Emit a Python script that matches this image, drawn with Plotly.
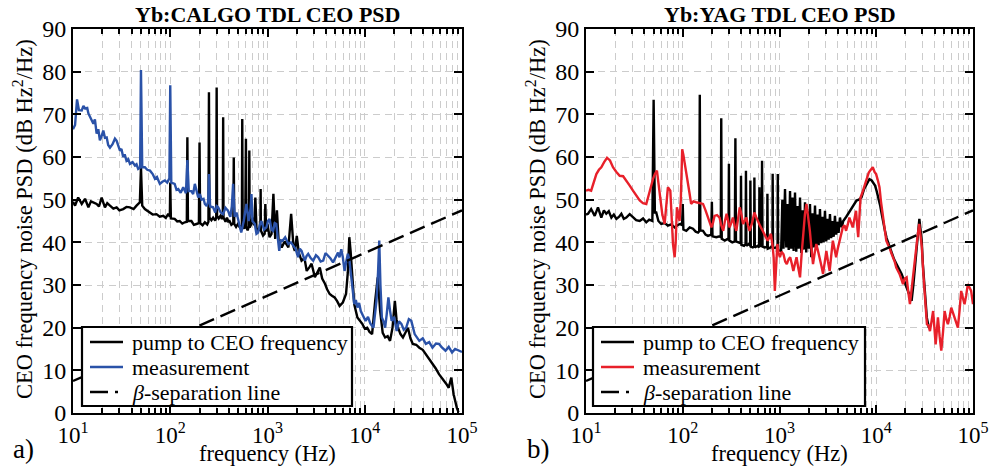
import plotly.graph_objects as go

# ---------------- data ----------------
calgo_pump_f = [10, 10.5, 11.3, 12.3, 13.3, 14.4, 15.3, 16.2, 17.5, 18.5, 19.7, 21.3, 22.5, 24, 26, 28.1, 30, 32.8,
                35.5, 38.5, 42, 45, 48.7, 50, 51.5, 54.8, 58, 61.9, 66, 72.2, 78, 84.6, 90, 95.4, 99, 100, 101.5,
                111, 118, 125, 133, 141, 148, 150, 152, 165, 175, 186, 197, 200, 203, 215, 227, 240, 247, 250, 253,
                265, 276, 290, 297, 300, 303, 315, 328, 340, 347, 350, 353, 370, 383, 395, 407, 425, 445, 450, 455,
                475, 496, 520, 545, 550, 556, 575, 590, 600, 606, 625, 645, 650, 656, 680, 700, 730, 750, 770, 800,
                845, 850, 855, 900, 935, 950, 970, 1000, 1050, 1100, 1150, 1200, 1250, 1300, 1400, 1500, 1640, 1750,
                1850, 1910, 2000, 2100, 2240, 2400, 2530, 2700, 2840, 3070, 3250, 3450, 3650, 3900, 4100, 4360, 4600,
                4900, 5200, 5510, 5950, 6420, 6700, 6940, 7150, 7380, 7800, 8400, 9000, 9440, 10000, 10600, 11200,
                11900, 12800, 13600, 14400, 15300, 16200, 17200, 18200, 19300, 20400, 21200, 22000, 23300, 24700,
                26200, 27800, 29500, 31200, 33800, 36400, 39500, 42500, 46000, 49700, 53500, 58000, 62000, 65100,
                69000, 73000, 77600, 82000, 85000, 88500, 92000]
calgo_pump_db = [49.5, 48.6, 50.5, 49, 50.2, 48.2, 49.6, 49.4, 49, 48.4, 50.5, 48.2, 49.2, 48.6, 47.9, 48.2, 47.5, 47.8,
                 48.3, 48.2, 47.8, 48.6, 49.4, 57.6, 48.6, 47.8, 47.4, 47, 46.5, 46.6, 46, 46.2, 45.7, 46.7, 46, 54, 45.6,
                 45.5, 44.9, 45, 44.4, 44.7, 44.8, 64.6, 45, 45, 44.1, 44.3, 44.5, 63.4, 44.5, 44, 44.7, 44.2, 44.8, 75.2, 45.8,
                 45.2, 45.8, 45.1, 45.8, 76.3, 46.2, 45.6, 46.2, 45.5, 45.9, 69.3, 45.8, 44.8, 45.8, 44.9, 45, 44.1, 44.5, 59.9, 44.3,
                 43.6, 44.3, 43.5, 44, 68.9, 43.7, 43.2, 44, 64.3, 43.5, 42.8, 43.8, 61.5, 43.5, 44.2, 45.8, 44, 50.5, 43.4, 42.6,
                 43.5, 52.5, 42.8, 41.6, 42, 49, 42.5, 44.3, 41.2, 42, 51.4, 40.8, 47.5, 40.5, 38.8, 40.2, 38.8, 46.7,
                 39, 38, 41.5, 37.5, 35.7, 36.3, 33.3, 34.2, 35, 31.8, 33, 34.1, 31.5, 30.3, 29, 27.9, 27.5,
                 27.1, 26.2, 25.1, 25.9, 27.9, 33, 41.2, 38, 33.3, 25.5, 22.4, 21.5, 20.9, 19.8, 20, 19,
                 18.5, 26.3, 31.8, 23.9, 18.8, 17.7, 18, 16.9, 20, 26.3, 22, 20, 18.5, 17.7,
                 19, 20, 17.5, 16.2, 16, 15.3, 14.8, 13.8, 12.6, 11.5, 10.5, 9.1, 8.3, 7.5,
                 6.8, 5.9, 8.3, 4.4, 2.8, 1.2, 0.2]

calgo_meas_f = [10, 10.5, 11, 11.5, 12.3, 12.8, 13.3, 14, 14.4, 15.3, 16.2, 16.8, 17.5, 18.2, 18.9, 19.6, 20.5, 21.3,
                22.2, 23, 24, 25.5, 27, 28.1, 29.2, 30.4, 31.5, 32.8, 34, 35.5, 37, 38.5, 41, 43.3, 45, 46.8, 49, 50,
                51.5, 54.8, 58, 61.9, 66, 69.6, 73, 78.2, 83, 88, 93, 98, 100, 102.5, 111, 116, 121, 128, 136, 145,
                150, 155, 165, 172, 179, 187, 194, 201.7, 210, 220, 227, 237, 245, 250, 257, 276, 290, 300, 311, 330,
                349, 370, 393, 415, 430, 443, 460, 480, 496, 515, 537, 570, 607, 640, 670, 684, 700, 740, 770, 800,
                830, 867, 920, 975, 1010, 1050, 1100, 1140, 1190, 1230, 1280, 1320, 1370, 1430, 1520, 1640, 1740,
                1840, 1950, 2060, 2150, 2240, 2320, 2420, 2520, 2620, 2780, 2950, 3150, 3320, 3520, 3740, 3950, 4200,
                4450, 4720, 5000, 5310, 5500, 5740, 5950, 6200, 6450, 6700, 6940, 7210, 7500, 7800, 8100, 8400, 8750,
                9100, 9600, 10200, 10800, 11400, 12300, 12800, 13200, 13700, 14100, 14500, 15000, 15600, 16200, 16800,
                17500, 18200, 18900, 20000, 21300, 22500, 23800, 25200, 26700, 28400, 30100, 32600, 34500, 36400,
                39500, 42500, 46000, 49700, 54000, 58000, 62500, 67700, 73000, 79000, 85000, 92000, 100000]
calgo_meas_db = [66.5, 67.5, 73.5, 71, 70.9, 72, 71.4, 71.5, 70.2, 69, 67.8, 68.8, 65.5, 66.5, 63.9, 64.8, 66.2, 64.5,
                 64.6, 62.8, 62.2, 63, 64.3, 63.8, 62.6, 61.5, 61.9, 60, 60.6, 59.1, 59.5, 58.4, 58.8, 58, 58.3, 57.2, 57.5, 80.4,
                 57.6, 57.6, 57, 56.8, 56, 54.9, 55.3, 53.7, 54.2, 54.5, 54, 55, 76.8, 54, 53.7, 52.3, 52.5, 51.6, 52.9, 51.5,
                 59.3, 52, 52, 51.3, 53.7, 51.6, 50.5, 51.3, 50, 50.2, 49, 48.5, 49.5, 56, 48.4, 48.2, 47, 48.5, 48.2, 47,
                 46.6, 48.1, 47.4, 46, 48.5, 53.7, 46, 47, 45.8, 44, 42.3, 45, 49, 45, 48, 51.3, 45, 44.3, 42, 42.3,
                 44, 45, 43, 43.5, 45, 45.5, 43, 42.7, 44.5, 44.3, 41, 38, 40.5, 40.4, 41.2, 39.6, 40,
                 39.2, 38.4, 36.5, 38.5, 38, 36.8, 35.7, 36.8, 37.3, 36.3, 35.7, 37, 36.5, 35.5, 35.7, 37.5, 36.9,
                 36.2, 35.3, 36.5, 37.6, 36.5, 38.4, 36.5, 33.3, 35.5, 37.3, 36, 32.6, 28, 25.5, 26.5, 24.7, 25.8,
                 23.9, 22.8, 21.6, 22.5, 21, 20, 24, 26.3, 33, 40.4, 30, 22.4, 21.5, 20, 23,
                 27.1, 24, 21.6, 22.5, 19.2, 21.5, 20.9, 19.5, 20, 22, 21.6, 18.5, 17.8, 16.9,
                 17.5, 16.2, 16.6, 15.3, 16.3, 16.2, 15.3, 14.6, 15.5, 14.2, 15, 14.6, 14.3]

yag_pump_f = [10, 10.5, 11.3, 12.3, 13.3, 14.4, 15.3, 16.2, 17.2, 18.3, 19.4, 20.6, 22, 23.2, 24.6, 26.1, 28.3, 30.6,
              33, 35.9, 38.9, 42, 45, 48.5, 50, 51.5, 53.2, 56, 59.9, 65, 70.2, 76, 82.4, 88, 94.4, 98.5, 100, 101.5,
              108.8, 118, 127.6, 136, 143.9, 148, 150, 152, 162, 172, 182, 197, 200, 203, 222, 240, 247, 250, 253,
              272, 290, 297, 300, 303, 325, 345, 350, 355, 382, 397, 400, 404, 430, 446, 450, 455, 480, 497, 500,
              505, 530, 547, 550, 556, 595, 615, 620, 630, 655, 660, 668, 700, 745, 750, 757, 810, 845, 850, 857,
              910, 955, 960, 968, 1040, 1070, 1100, 1140, 1175, 1210, 1245, 1285, 1320, 1360, 1400, 1446, 1490,
              1530, 1580, 1630, 1680, 1730, 1780, 1835, 1890, 1950, 2010, 2066, 2130, 2200, 2260, 2327, 2400, 2470,
              2540, 2620, 2700, 2780, 2860, 2951, 3040, 3130, 3220, 3323, 3420, 3520, 3630, 3742, 3850, 3960, 4080,
              4215, 4400, 4560, 4900, 5330, 5800, 6250, 6600, 7030, 7500, 7970, 8500, 8970, 9350, 9720, 10100,
              10500, 11000, 11400, 11800, 12300, 12800, 13400, 14000, 14500, 15300, 16200, 17200, 18300, 19400,
              20600, 21900, 23200, 24200, 25100, 26500, 27900, 28700, 29500, 30300, 31200, 32200, 33300, 35000]
yag_pump_db = [46.5, 46.7, 47.8, 46.2, 48.2, 45.8, 47.5, 46.7, 47.3, 45.8, 46.5, 45.5, 46, 46.7, 45.5, 45.8, 46.6, 45.8,
               45.2, 45, 45.6, 44.7, 45.3, 45, 73.4, 47, 47, 45, 44.3, 44.5, 43.9, 44.2, 43.5, 44, 44.3, 44, 49, 43,
               42.7, 43.5, 43.2, 42.5, 42.3, 42.6, 74.6, 42.8, 42.7, 41.8, 41.5, 41.8, 49.5, 41.4, 41.2, 41.4, 41.2, 69.1, 40.8,
               40.4, 40.8, 40.6, 58.4, 40.4, 40, 40.2, 64.4, 40.2, 40, 39.8, 55.6, 39.4, 39.2, 39.6, 56.8, 39.2, 39.6, 39.2, 54.5,
               39, 38.8, 39, 55.2, 38.8, 39.2, 38.8, 52.9, 39, 39.5, 59.1, 39, 38.8, 38.9, 51.4, 38.5, 38.8, 39.2, 56.1, 38.6,
               38.8, 38.5, 56, 38.2, 38, 50, 38.5, 52.5, 38.8, 49, 38.2, 52, 38.5, 50.5, 38, 51.7, 37.8,
               48.5, 38.5, 50.5, 37.5, 47.5, 38.3, 49.4, 37.6, 47.2, 38.5, 49, 36.5, 46.8, 38.8, 48.6, 39, 46.5,
               39.3, 47.8, 39.8, 46, 40, 47.4, 40.2, 45.5, 40.6, 46.6, 41, 45, 41.3, 46.2, 41.8, 44.8, 42.2,
               45.8, 43.5, 45, 46, 47.4, 48.5, 49.8, 50, 50.5, 52.5, 53.7, 54.8, 54.5, 54, 53.3, 52,
               50.5, 48.5, 46.6, 44.5, 42.7, 41, 39.6, 38.3, 37.2, 36, 34.9, 33.8, 32.6, 31,
               29.4, 28, 26.3, 30, 34.9, 40, 45.5, 43, 40.4, 35, 30.3, 26, 22.4, 20]

yag_meas_f = [10, 10.6, 11.3, 12, 12.8, 13.6, 14.4, 15.4, 16.5, 17.7, 19, 20.6, 22.3, 24.2, 26.1, 28.3, 30.6, 33.1,
              35.9, 38.8, 42, 43.8, 45.5, 47.3, 49.2, 51.5, 54.1, 56, 58.5, 61.5, 65, 67.5, 70.2, 74.4, 76.8, 79.3,
              82.4, 84.5, 87, 90, 92.7, 95.5, 98.7, 101.5, 104.6, 108.5, 113, 117.5, 122, 129, 137.6, 148, 162, 172,
              182, 190, 198, 205, 213, 226, 240, 250, 262, 272, 284, 295, 305, 318, 330, 343, 358, 373, 388, 404,
              420, 437, 455, 472, 490, 520, 550, 572, 595, 632, 670, 712, 755, 785, 815, 850, 870, 895, 920, 950,
              980, 1010, 1050, 1100, 1145, 1190, 1240, 1290, 1340, 1390, 1445, 1500, 1565, 1630, 1690, 1760, 1830,
              1900, 1980, 2060, 2140, 2220, 2310, 2400, 2500, 2600, 2710, 2820, 2930, 3050, 3170, 3300, 3430, 3560,
              3700, 3850, 4000, 4170, 4340, 4510, 4700, 4880, 5080, 5280, 5500, 5710, 5950, 6180, 6350, 6510, 6700,
              6880, 7150, 7460, 7750, 8090, 8350, 8630, 8900, 9210, 9600, 9970, 10400, 10800, 11200, 11700, 12200,
              12700, 13200, 13700, 14300, 14900, 15500, 16100, 16700, 17400, 18100, 18900, 19700, 20600, 21400,
              22300, 23200, 24100, 25000, 26000, 26900, 27800, 28700, 29600, 30600, 31700, 32500, 33400, 34600,
              35900, 37300, 38700, 39900, 41100, 42200, 43400, 45200, 47000, 49000, 50900, 53000, 55000, 57300,
              59600, 62000, 64400, 67000, 69800, 72600, 75500, 78500, 81700, 85000, 88400, 92000, 95700, 100000]
yag_meas_db = [52.1, 52.3, 52.1, 54, 56, 57, 57.6, 58.8, 59.8, 59.2, 57.6, 56.5, 55.6, 55.5, 54.5, 53.3, 52.1, 51,
               49.8, 49.2, 49, 50.5, 52.1, 53.5, 54.8, 56, 56.8, 54, 49.8, 46.5, 44.3, 48, 52.9, 52.1, 47, 39.6,
               36.5, 40, 48.2, 46.5, 45, 50, 61.8, 60.5, 58.4, 56, 53.7, 51.5, 49, 49.6, 49.4, 49.2, 49, 47.5,
               45.8, 44.8, 43.5, 44.5, 46.2, 46.4, 45.8, 44, 42.7, 44.8, 46.7, 45, 43.5, 44.6, 45.8, 44, 42.7, 45.5, 48.2, 46.5,
               44.3, 45, 45.8, 44, 42.7, 44.5, 47, 46, 45, 43.8, 42.7, 41.5, 40.4, 41.2, 42, 39, 36.5, 28.6, 33, 39.6,
               37.5, 36.5, 37.8, 37.2, 35.5, 34.9, 36, 36.5, 35, 33.3, 35, 36.5, 34, 31.8, 37, 42.7, 46.5,
               49, 46, 42.7, 38.5, 34.9, 37.5, 39.6, 38, 36.5, 34.5, 32.6, 35, 38, 35.5, 33.3, 37, 40.4,
               38.5, 36.5, 38.5, 40.4, 42, 43.5, 44, 42.7, 44.2, 45.8, 44.6, 43.5, 45.5, 47.4, 44, 41.2, 46,
               50.5, 51.5, 52.9, 53.8, 55.2, 56.3, 56.8, 57.3, 57.6, 56.5, 56, 54.5, 52.9, 49.5, 46.6, 43,
               40.4, 39.5, 38.8, 37.5, 36.5, 35.5, 34.1, 33.5, 32.6, 31.5, 30.2, 31.5, 31.8, 28.5,
               25.5, 29, 32.6, 36, 39.6, 42, 44.3, 41.5, 38.8, 33, 27.9, 24, 20.8, 20.5,
               19.2, 21.5, 23.9, 20, 16.1, 19, 22.4, 18, 14.6, 19, 23.9, 22, 20.8, 22.5,
               24.7, 23.5, 22.4, 21, 20, 24, 28.6, 27, 25.5, 27.5, 30.2, 29.4, 28.6, 25.5]

# beta-separation line end points (straight on the log-frequency axis)
beta_f = [10, 100000]
beta_db = [7.5, 47.5]

x_tick_vals = [10, 100, 1000, 10000, 100000]
x_tick_text = ["10<sup>1</sup>", "10<sup>2</sup>", "10<sup>3</sup>", "10<sup>4</sup>", "10<sup>5</sup>"]
x_minor_vals = [k * 10 ** d for d in range(1, 5) for k in range(2, 10)]
titles = ["Yb:CALGO TDL CEO PSD", "Yb:YAG TDL CEO PSD"]
panel_labels = ["a)", "b)"]
legend_names = ["pump to CEO frequency", "measurement", "<i>β</i>-separation line"]

# ---------------- figure ----------------
W, H = 989, 468
FONT = "Liberation Serif, Times New Roman, Times, DejaVu Serif, serif"
BLUE = "#2a52a8"
RED = "#e8202a"
GRID = "#cccccc"
LW = 2.4
BETA_DASH = "16px,7px"

panels = [
    dict(x0=73, x1=462, pump=(calgo_pump_f, calgo_pump_db), meas=(calgo_meas_f, calgo_meas_db),
         color=BLUE, xa="x", ya="y", ytitle_x=23, lab_x=23, leg=(82, 352)),
    dict(x0=586, x1=973, pump=(yag_pump_f, yag_pump_db), meas=(yag_meas_f, yag_meas_db),
         color=RED, xa="x2", ya="y2", ytitle_x=536, lab_x=538, leg=(593, 865)),
]
top_px, bot_px = 29, 413
leg_top, leg_bot = 327, 406
leg_rows = [342, 367, 392]

fig = go.Figure()
for p in panels:
    fig.add_trace(go.Scatter(x=p["pump"][0], y=p["pump"][1], mode="lines", name=legend_names[0],
                             line=dict(color="black", width=LW), xaxis=p["xa"], yaxis=p["ya"], showlegend=False))
    fig.add_trace(go.Scatter(x=p["meas"][0], y=p["meas"][1], mode="lines", name=legend_names[1],
                             line=dict(color=p["color"], width=LW), xaxis=p["xa"], yaxis=p["ya"], showlegend=False))
    fig.add_trace(go.Scatter(x=beta_f, y=beta_db, mode="lines", name=legend_names[2],
                             line=dict(color="black", width=LW, dash=BETA_DASH), xaxis=p["xa"], yaxis=p["ya"],
                             showlegend=False))

common_x = dict(type="log", range=[1, 5], showline=True, linecolor="black", linewidth=2, mirror="allticks",
                automargin=False,
                ticks="inside", ticklen=8, tickwidth=1.5, tickcolor="black",
                tickmode="array", tickvals=x_tick_vals, ticktext=x_tick_text,
                tickfont=dict(family=FONT, size=23, color="black"),
                showgrid=True, gridcolor=GRID, griddash="7px,5px", gridwidth=1, zeroline=False,
                minor=dict(tickmode="array", tickvals=x_minor_vals, ticks="inside", ticklen=5,
                           tickwidth=1.5, tickcolor="black", showgrid=True, gridcolor=GRID,
                           griddash="7px,5px", gridwidth=1))
common_y = dict(range=[0, 90], dtick=10, tick0=0, showline=True, linecolor="black", linewidth=2,
                automargin=False,
                mirror="allticks", ticks="inside", ticklen=8, tickwidth=1.5, tickcolor="black",
                tickfont=dict(family=FONT, size=24, color="black"),
                showgrid=True, gridcolor=GRID, griddash="7px,5px", gridwidth=1, zeroline=False)

ydom = [1 - bot_px / H, 1 - top_px / H]
p0, p1 = panels
fig.update_layout(
    width=W, height=H, autosize=False, margin=dict(l=0, r=0, t=0, b=0, autoexpand=False),
    paper_bgcolor="white", plot_bgcolor="white", showlegend=False,
    font=dict(family=FONT, color="black"),
    xaxis=dict(common_x, domain=[p0["x0"] / W, p0["x1"] / W], anchor="y"),
    yaxis=dict(common_y, domain=ydom, anchor="x"),
    xaxis2=dict(common_x, domain=[p1["x0"] / W, p1["x1"] / W], anchor="y2"),
    yaxis2=dict(common_y, domain=ydom, anchor="x2"),
)


def px(x):
    return x / W


def py(y):
    return 1 - y / H


for i, p in enumerate(panels):
    cx = (p["x0"] + p["x1"]) / 2 / W
    fig.add_annotation(text="<b>" + titles[i] + "</b>", x=cx, y=py(14), xref="paper", yref="paper",
                       showarrow=False, font=dict(family=FONT, size=22), xanchor="center", yanchor="middle")
    fig.add_annotation(text="frequency (Hz)", x=cx, y=py(453), xref="paper", yref="paper",
                       showarrow=False, font=dict(family=FONT, size=22.5), xanchor="center", yanchor="middle")
    fig.add_annotation(text="CEO frequency noise PSD (dB Hz<sup>2</sup>/Hz)", x=px(p["ytitle_x"]),
                       y=py(219), xref="paper", yref="paper", showarrow=False, textangle=-90,
                       font=dict(family=FONT, size=22.5), xanchor="center", yanchor="middle")
    fig.add_annotation(text=panel_labels[i], x=px(p["lab_x"]), y=py(449), xref="paper", yref="paper",
                       showarrow=False, font=dict(family=FONT, size=27), xanchor="center", yanchor="middle")

    # legend box drawn by hand (tight row spacing like the reference)
    lx0, lx1 = p["leg"]
    fig.add_shape(type="rect", xref="paper", yref="paper", x0=px(lx0), x1=px(lx1), y0=py(leg_bot), y1=py(leg_top),
                  fillcolor="white", line=dict(color="black", width=2.2), layer="above")
    sample_colors = ["black", p["color"], "black"]
    sample_dash = ["solid", "solid", "18px,7px,3px,7px"]
    for j in range(3):
        fig.add_shape(type="line", xref="paper", yref="paper", x0=px(lx0 + 8), x1=px(lx0 + 41),
                      y0=py(leg_rows[j]), y1=py(leg_rows[j]),
                      line=dict(color=sample_colors[j], width=LW, dash=sample_dash[j]), layer="above")
        fig.add_annotation(text=legend_names[j], x=px(lx0 + 48), y=py(leg_rows[j]), xref="paper", yref="paper",
                           showarrow=False, font=dict(family=FONT, size=22), xanchor="left", yanchor="middle")

fig.write_html("out.html")
